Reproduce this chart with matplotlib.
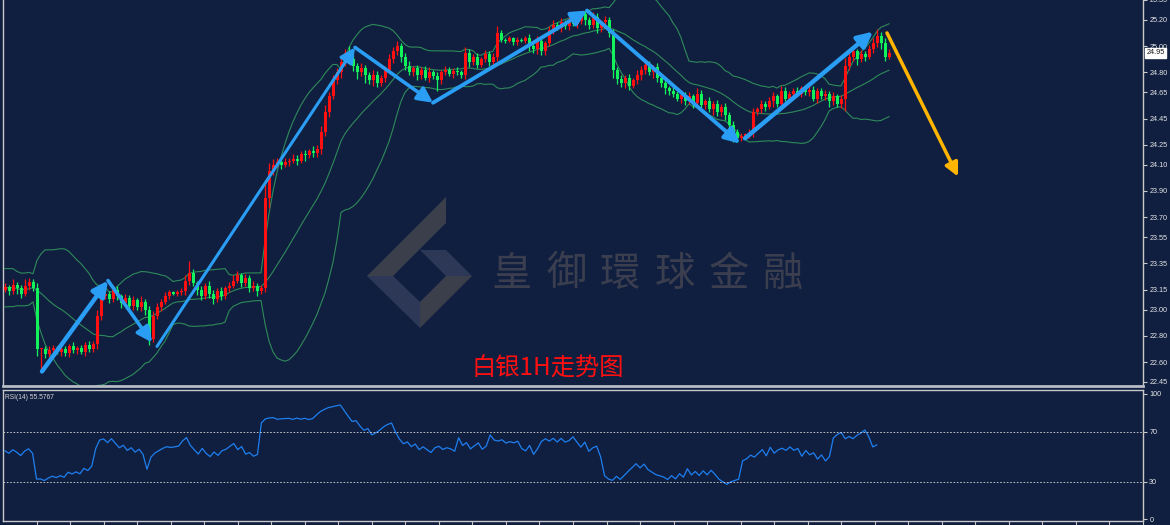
import numpy as np
import pandas as pd
import matplotlib
matplotlib.use("Agg")
import matplotlib.pyplot as plt
from matplotlib.patches import Polygon

plt.rcParams['font.family'] = ['Noto Sans CJK SC', 'DejaVu Sans']

# ---------------- data ----------------
# earlier history (only used to warm up the indicators, not drawn)
pre_closes = [23.05, 23.12, 23.20, 23.30, 23.25, 23.18, 23.10, 23.02, 23.08, 23.15,
              23.22, 23.28, 23.20, 23.12, 23.05, 23.10, 23.18, 23.24, 23.20, 23.15]

closes = [
    23.17, 23.14, 23.19, 23.16, 23.12, 23.18, 23.21, 23.16,
    22.70,
    22.70, 22.66, 22.69, 22.71, 22.68, 22.70, 22.67, 22.72, 22.69, 22.71, 22.68, 22.73, 22.70, 22.74,
    22.95, 23.10,
    23.12, 23.08, 23.15, 23.10, 23.05, 23.09, 23.03, 23.07, 23.02, 23.06, 23.00,
    22.78,
    22.95, 23.02, 23.06, 23.10,
    23.13, 23.12, 23.13, 23.14,
    23.22, 23.28, 23.20,
    23.15, 23.10, 23.18, 23.12, 23.08, 23.14, 23.10, 23.16,
    23.18, 23.22, 23.26, 23.20, 23.24, 23.16, 23.18, 23.14, 23.16,
    23.85, 24.05, 24.10, 24.12, 24.10, 24.12,
    24.13, 24.14, 24.13, 24.18, 24.17, 24.20, 24.19, 24.22,
    24.35, 24.50, 24.62, 24.74,
    24.80, 24.88, 24.95, 24.90, 24.85, 24.80, 24.83, 24.78,
    24.74, 24.78, 24.72, 24.76, 24.82, 24.90, 24.96, 25.00, 24.92,
    24.85, 24.80, 24.83, 24.78, 24.82, 24.76, 24.80, 24.77, 24.74,
    24.80, 24.82, 24.79, 24.81, 24.80, 24.78,
    24.95, 24.88, 24.92, 24.86, 24.90, 24.94, 24.88, 24.92,
    25.10, 25.05, 25.04, 25.06, 25.03, 25.05, 25.04, 25.06,
    25.00, 24.98, 25.04, 24.96, 25.02,
    25.12, 25.16, 25.14, 25.18, 25.15, 25.20, 25.17, 25.19,
    25.24, 25.20, 25.16, 25.22, 25.14, 25.18, 25.20, 25.10, 24.82,
    24.75, 24.72, 24.76, 24.70, 24.74, 24.78, 24.82, 24.86, 24.80, 24.84, 24.76, 24.72,
    24.68, 24.66, 24.64, 24.60, 24.63, 24.58, 24.62, 24.57, 24.64, 24.55, 24.58, 24.52, 24.56, 24.50, 24.54, 24.48,
    24.40, 24.35, 24.30, 24.32, 24.33, 24.34,
    24.50, 24.52, 24.56, 24.54, 24.58, 24.62, 24.56, 24.66, 24.60, 24.64,
    24.66, 24.64, 24.68, 24.65, 24.67, 24.60, 24.66, 24.62, 24.64, 24.58, 24.62, 24.56, 24.60,
    24.85, 24.92, 24.96, 24.90, 24.94, 24.92, 24.98, 25.02, 25.08, 25.02, 24.92, 24.95,
]

# wick lengths above / below the body, in cents
up_wick = [
    3, 2, 4, 2, 3, 5, 3, 2, 4, 1,  2, 3, 2, 1, 3, 2, 2, 3, 1, 2,
    2, 3, 2, 5, 4, 3, 2, 4, 3, 2,  3, 2, 3, 2, 4, 2, 3, 4, 3, 2,
    3, 2, 1, 2, 2, 4, 9, 3, 2, 3,  2, 4, 3, 2, 3, 2, 3, 4, 3, 2,
    3, 2, 4, 2, 3, 10, 6, 4, 3, 2, 3, 2, 4, 3, 2, 3, 2, 4, 3, 4,
    5, 3, 4, 3, 4, 3, 5, 3, 2, 4,  3, 2, 4, 3, 2, 3, 4, 3, 4, 2,
    3, 4, 2, 3, 2, 3, 4, 2, 3, 2,  3, 2, 2, 3, 2, 4, 3, 2, 3, 2,
    3, 2, 3, 5, 2, 1, 2, 1, 2, 1,  2, 3, 2, 4, 3, 2, 3, 4, 2, 3,
    2, 2, 3, 2, 2, 3, 2, 4, 3, 2,  3, 2, 3, 2, 3, 2, 3, 2, 4, 3,
    4, 3, 2, 3, 2, 3, 2, 3, 2, 3,  2, 3, 2, 4, 3, 2, 3, 2, 3, 2,
    3, 2, 3, 2, 2, 1, 3, 3, 2, 3,  2, 3, 3, 2, 4, 3, 2, 2, 3, 2,
    2, 3, 3, 2, 2, 3, 2, 3, 2, 3,  6, 3, 4, 2, 3, 2, 3, 4, 5, 3,
    4, 3,
]
dn_wick = [
    2, 3, 2, 4, 3, 2, 3, 2, 5, 15, 3, 2, 4, 2, 3, 2, 3, 2, 3, 2,
    3, 2, 2, 4, 3, 2, 3, 2, 3, 4,  2, 3, 3, 2, 3, 4, 5, 3, 2, 3,
    2, 2, 1, 2, 2, 3, 3, 2, 4, 3,  2, 3, 4, 2, 3, 2, 3, 2, 2, 3,
    2, 3, 2, 4, 2, 3, 8, 3, 2, 3,  2, 3, 2, 3, 2, 4, 2, 3, 3, 4,
    3, 4, 2, 3, 4, 3, 2, 4, 5, 3,  6, 3, 4, 3, 2, 3, 2, 3, 3, 4,
    3, 2, 3, 4, 3, 2, 3, 2, 8, 3,  2, 2, 3, 2, 2, 3, 4, 2, 3, 2,
    2, 3, 2, 3, 2, 2, 1, 2, 2, 1,  2, 4, 3, 4, 3, 3, 2, 3, 2, 3,
    2, 3, 2, 3, 2, 4, 3, 2, 4, 3,  4, 3, 6, 4, 3, 4, 3, 2, 3, 4,
    3, 2, 4, 3, 3, 4, 3, 3, 2, 3,  3, 2, 4, 3, 4, 3, 2, 4, 3, 3,
    4, 3, 8, 3, 2, 1, 3, 3, 2, 3,  3, 2, 4, 2, 3, 2, 3, 2, 2, 3,
    2, 3, 2, 3, 2, 3, 4, 3, 2, 3,  9, 3, 3, 4, 2, 3, 2, 3, 3, 4,
    3, 2,
]

# trend arrows drawn on the chart: (bar index, price) start -> end
trend_starts = [(9.25, 22.53), (25.75, 23.22), (38.0, 22.72), (87.5, 24.99),
                (107.0, 24.57), (145.5, 25.27), (185.0, 24.30)]
trend_ends = [(25.75, 23.22), (36.75, 22.75), (87.5, 24.99), (107.0, 24.57),
              (145.5, 25.27), (183.75, 24.26), (217.0, 25.11)]
trend_widths = [3.2, 2.6, 2.2, 2.6, 2.8, 2.8, 3.2]
forecast_start = (220.5, 25.10)
forecast_end = (238.25, 24.01)

price_ticks = [25.35, 25.20, 25.00, 24.80, 24.65, 24.45, 24.25, 24.10, 23.90,
               23.70, 23.55, 23.35, 23.15, 23.00, 22.80, 22.60, 22.45]
rsi_ticks = [0, 30, 70, 100]
last_price_label = "24.95"
rsi_label = "RSI(14) 55.5767"
title_text = "白银1H走势图"
watermark_chars = ["皇", "御", "環", "球", "金", "融"]

# ---------------- indicators ----------------
allc = np.array(pre_closes + closes)
npre = len(pre_closes)
s = pd.Series(allc)
mid = s.rolling(20).mean()
sd = s.rolling(20).std(ddof=0)
bb_mid = mid.values[npre:]
bb_up = (mid + 2 * sd).values[npre:]
bb_lo = (mid - 2 * sd).values[npre:]

diff = np.diff(allc)
gain = np.where(diff > 0, diff, 0.0)
loss = np.where(diff < 0, -diff, 0.0)
n = 14
ag = gain[:n].mean()
al = loss[:n].mean()
rsi_all = [np.nan] * (n + 1)
for g, l in zip(gain[n:], loss[n:]):
    ag = (ag * (n - 1) + g) / n
    al = (al * (n - 1) + l) / n
    rsi_all.append(100 - 100 / (1 + ag / al) if al > 0 else 100)
rsi = np.array(rsi_all)[npre:]

c = np.array(closes)
o = np.concatenate([[pre_closes[-1]], c[:-1]])
hi = np.maximum(o, c) + np.array(up_wick) / 100.0
lo = np.minimum(o, c) - np.array(dn_wick) / 100.0
x = np.arange(len(c))

# ---------------- figure ----------------
BG = "#101f40"
W, H = 1170, 525
fig = plt.figure(figsize=(W / 100, H / 100), dpi=100, facecolor=BG)

def fx(px):
    return px / W

def fy(py):
    return 1 - py / H

ax = fig.add_axes([fx(3), fy(386), 1140 / W, 386 / H])
ax2 = fig.add_axes([fx(3), fy(521), 1140 / W, (521 - 390) / H])
for a in (ax, ax2):
    a.set_facecolor("none")
    a.set_xlim(-0.5, 284.5)
    for sp in a.spines.values():
        sp.set_color("#c8c8c8")
        sp.set_linewidth(1.0)

# watermark (behind everything)
logo_dark = "#3b3e4b"
logo_blue = "#2c3856"
polys = [
    ([(446, 197), (446, 223), (393, 276), (367, 276)], logo_dark),
    ([(367, 276), (393, 276), (420, 302), (420, 328)], logo_blue),
    ([(420, 302), (446, 276), (472, 276), (420, 328)], logo_dark),
    ([(420, 250), (446, 250), (472, 276), (446, 276)], logo_blue),
]
for pts, col in polys:
    fig.patches.append(Polygon([(fx(px), fy(py)) for px, py in pts], closed=True,
                               transform=fig.transFigure, facecolor=col,
                               edgecolor="none", zorder=-5))
for k, ch in enumerate(watermark_chars):
    fig.text(fx(512 + 54.2 * k), fy(274), ch, color="#3a3e4e", fontsize=29,
             ha="center", va="center", zorder=-4)

# candles
UP, DN = "#ff1010", "#12f25a"
cols = [UP if cc >= oo else DN for oo, cc in zip(o, c)]
ax.vlines(x, lo, hi, colors=cols, linewidth=0.9, zorder=3)
body_h = np.maximum(np.abs(c - o), 0.006)
ax.bar(x, body_h, bottom=np.minimum(o, c), width=0.75, color=cols, linewidth=0, zorder=4)

# Bollinger bands
bbc = "#2f8a5a"
for band in (bb_up, bb_mid, bb_lo):
    ax.plot(x, band, color=bbc, lw=0.8, zorder=2)

# trend arrows
blue = "#2a9df4"
for (x0, y0), (x1, y1), lw in zip(trend_starts, trend_ends, trend_widths):
    ax.annotate("", xy=(x1, y1), xytext=(x0, y0),
                arrowprops=dict(arrowstyle="-|>,head_length=0.9,head_width=0.45",
                                color=blue, lw=lw, shrinkA=0, shrinkB=0),
                zorder=6)
ax.annotate("", xy=forecast_end, xytext=forecast_start,
            arrowprops=dict(arrowstyle="-|>,head_length=0.8,head_width=0.4",
                            color="#ffb400", lw=2.5, shrinkA=0, shrinkB=0),
            zorder=6)

TICKFONT = "Liberation Sans"
ax.set_ylim(25.346 - 386 / 131.9, 25.346)
ax.yaxis.tick_right()
ax.set_yticks(price_ticks)
ax.set_yticklabels([f"{v:.2f}" for v in price_ticks])
ax.tick_params(axis="y", colors="#c8c8c8", labelcolor="#e6e6e6", labelsize=5.2,
               length=3, width=0.8, pad=1.5)
ax.set_xticks([])
ax.spines["top"].set_visible(False)
ax.spines["bottom"].set_linewidth(2.0)
ax.spines["bottom"].set_color("#b8bcc6")
for lab in ax.get_yticklabels():
    lab.set_fontfamily(TICKFONT)

# last price label
ax.text(1.0028, 24.95, last_price_label, transform=ax.get_yaxis_transform(),
        fontsize=5.2, color="#101010", va="center", ha="left", family=TICKFONT,
        bbox=dict(boxstyle="square,pad=0.2", fc="white", ec="white"), clip_on=False,
        zorder=10)

# title
fig.text(fx(548), fy(369), title_text, color="#ff1010", fontsize=17.5,
         ha="center", va="center")

# RSI panel
ax2.plot(x, rsi, color="#1e7ff0", lw=0.9)
for lvl in (30, 70):
    ax2.axhline(lvl, color="#d8d8d8", lw=0.6, ls=(0, (2, 2)))
ax2.set_ylim(-1.6, 103.2)
ax2.yaxis.tick_right()
ax2.set_yticks(rsi_ticks)
ax2.set_yticklabels([str(v) for v in rsi_ticks])
ax2.tick_params(axis="y", colors="#c8c8c8", labelcolor="#e6e6e6", labelsize=5.2,
                length=3, width=0.8, pad=1.5)
ax2.set_xticks([(32 + 34 * k) / 4 for k in range(34)])
ax2.tick_params(axis="x", colors="#c8c8c8", length=4, width=0.8, labelbottom=False)
for lab in ax2.get_yticklabels():
    lab.set_fontfamily(TICKFONT)
ax2.text(0.002, 0.97, rsi_label, transform=ax2.transAxes, fontsize=4.8,
         color="#d8d8d8", ha="left", va="top", family=TICKFONT)

fig.savefig("out.png", dpi=100, facecolor=BG)
